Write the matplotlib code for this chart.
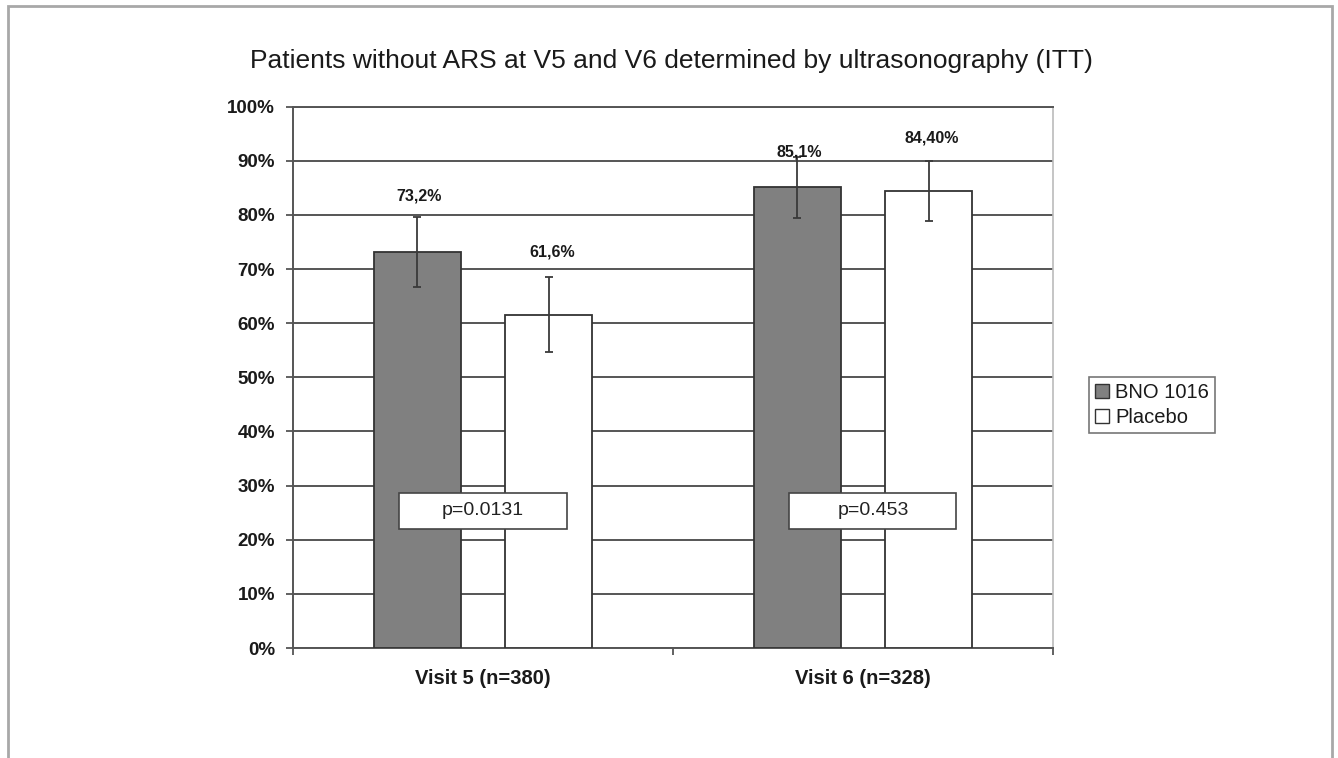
import matplotlib
matplotlib.use("Agg")
import matplotlib.pyplot as plt
import numpy as np
from matplotlib.patches import Rectangle, Patch

# ---------------- data ----------------
categories = ["Visit 5 (n=380)", "Visit 6 (n=328)"]
series_names = ["BNO 1016", "Placebo"]
bno_values = [73.2, 85.1]
placebo_values = [61.6, 84.4]
bno_err = [6.5, 5.6]
placebo_err = [6.9, 5.5]
bno_labels = ["73,2%", "85,1%"]
placebo_labels = ["61,6%", "84,40%"]
p_values = ["p=0.0131", "p=0.453"]
yticks = [0, 10, 20, 30, 40, 50, 60, 70, 80, 90, 100]
ytick_labels = [f"{v}%" for v in yticks]
title = "Patients without ARS at V5 and V6 determined by ultrasonography (ITT)"

# ---------------- style ----------------
plt.rcParams['font.family'] = ['Liberation Sans', 'DejaVu Sans']
TXT = '#1a1a1a'
GRID = '#555555'

fig = plt.figure(figsize=(13.38, 7.58), dpi=100)
ax = fig.add_axes([0.2190, 0.1451, 0.5680, 0.7141])

x = np.arange(len(categories))
w = 0.23
off = 0.173

ax.bar(x - off, bno_values, w, color='#808080', edgecolor='#333333', lw=1.3, zorder=3)
ax.bar(x + off, placebo_values, w, color='white', edgecolor='#333333', lw=1.3, zorder=3)
ax.errorbar(x - off, bno_values, yerr=bno_err, fmt='none', ecolor='#3a3a3a',
            elinewidth=1.3, capsize=3, capthick=1.3, zorder=4)
ax.errorbar(x + off, placebo_values, yerr=placebo_err, fmt='none', ecolor='#3a3a3a',
            elinewidth=1.3, capsize=3, capthick=1.3, zorder=4)

# value labels (placed above the error bars)
bno_nudge = [3.8, 0.9]
pla_nudge = [4.6, 4.4]
for i in range(len(categories)):
    ax.text(x[i] - off + 0.005, bno_values[i] + bno_err[i] + bno_nudge[i], bno_labels[i],
            ha='center', va='center', fontsize=11.5, fontweight='bold', color=TXT, zorder=6)
    ax.text(x[i] + off + 0.008, placebo_values[i] + placebo_err[i] + pla_nudge[i], placebo_labels[i],
            ha='center', va='center', fontsize=11.5, fontweight='bold', color=TXT, zorder=6)

# p-value boxes
box_dx = [0.0, 0.026]
box_w = 0.44
box_y0, box_h = 22.0, 6.7
for i in range(len(categories)):
    cx = x[i] + box_dx[i]
    ax.add_patch(Rectangle((cx - box_w / 2, box_y0), box_w, box_h, facecolor='white',
                           edgecolor='#444444', lw=1.2, zorder=5))
    ax.text(cx, box_y0 + box_h / 2, p_values[i], ha='center', va='center',
            fontsize=14, color='#222222', zorder=6)

ax.set_xlim(-0.5, 1.5)
ax.set_ylim(0, 100)
ax.set_yticks(yticks)
ax.set_yticklabels(ytick_labels, fontsize=13.5, fontweight='bold', color=TXT)
ax.yaxis.grid(True, color=GRID, lw=1.4, zorder=0)
ax.set_axisbelow(True)
ax.tick_params(axis='y', length=5, width=1.3, color=GRID, pad=8)

ax.set_xticks(x)
ax.set_xticklabels(categories, fontsize=14.5, fontweight='bold', color=TXT)
ax.tick_params(axis='x', which='major', length=0, pad=15)
ax.set_xticks([-0.5, 0.5, 1.5], minor=True)
ax.tick_params(axis='x', which='minor', length=5, width=1.3, color=GRID)

for s in ['left', 'bottom']:
    ax.spines[s].set_color(GRID)
    ax.spines[s].set_linewidth(1.4)
ax.spines['top'].set_color(GRID)
ax.spines['top'].set_linewidth(1.4)
ax.spines['right'].set_color('#bbbbbb')
ax.spines['right'].set_linewidth(1.2)

# legend
handles = [Patch(facecolor='#808080', edgecolor='#333333', lw=1.0),
           Patch(facecolor='white', edgecolor='#333333', lw=1.0)]
leg = fig.legend(handles, series_names, loc='upper left',
                 bbox_to_anchor=(1089 / 1338, 1 - 377 / 758),
                 fontsize=14.5, frameon=True, fancybox=False, borderpad=0.3,
                 handlelength=0.7, handleheight=0.7, handletextpad=0.3,
                 labelspacing=0.3, borderaxespad=0.0)
leg.get_frame().set_edgecolor('#555555')
leg.get_frame().set_linewidth(1.2)
for t in leg.get_texts():
    t.set_color(TXT)

# title
fig.text(0.5015, 0.919, title, ha='center', va='center', fontsize=19, color=TXT)

# outer frame
fig.add_artist(Rectangle((8 / 1338, -0.1), (1332 - 8) / 1338, 1.1 - 6 / 758,
                         transform=fig.transFigure, fill=False,
                         edgecolor='#a8a8a8', lw=2.0))

fig.savefig("out.png", dpi=100)
